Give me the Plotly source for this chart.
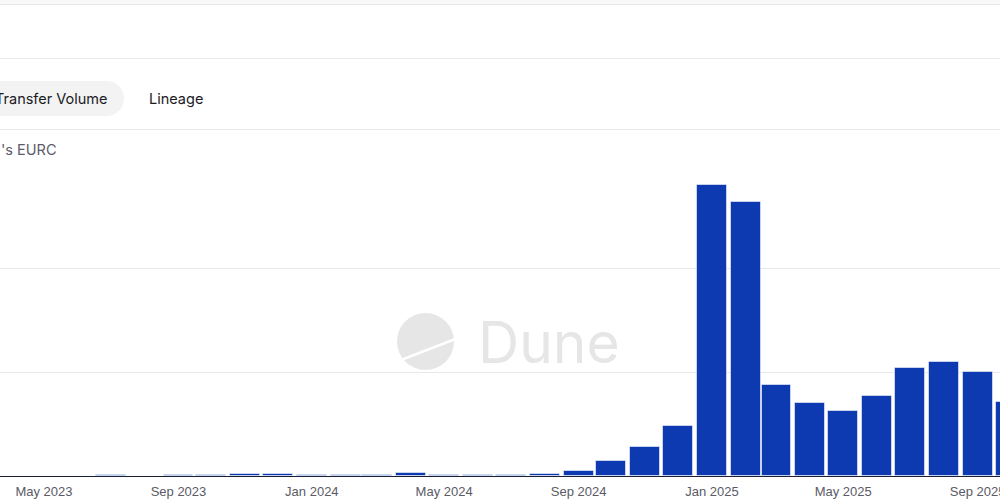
import plotly.graph_objects as go

# ---- data (monthly EURC transfer volume, in gridline units) ----
months = [
    "2023-04-01", "2023-05-01", "2023-06-01", "2023-07-01", "2023-08-01", "2023-09-01",
    "2023-10-01", "2023-11-01", "2023-12-01", "2024-01-01", "2024-02-01", "2024-03-01",
    "2024-04-01", "2024-05-01", "2024-06-01", "2024-07-01", "2024-08-01", "2024-09-01",
    "2024-10-01", "2024-11-01", "2024-12-01", "2025-01-01", "2025-02-01", "2025-03-01",
    "2025-04-01", "2025-05-01", "2025-06-01", "2025-07-01", "2025-08-01", "2025-09-01",
    "2025-10-01",
]
volume = [
    0.003, 0.003, 0.002, 0.010, 0.002, 0.010,
    0.013, 0.020, 0.020, 0.012, 0.010, 0.013,
    0.026, 0.010, 0.007, 0.010, 0.022, 0.051,
    0.141, 0.279, 0.481, 2.798, 2.637, 0.872,
    0.699, 0.622, 0.766, 1.038, 1.099, 1.003,
    0.709,
]
grid_values = [0, 1, 2]
tab_labels = ["Transfer Volume", "Lineage"]
title_text = "'s EURC"

# ---- layout geometry helpers (pixel -> paper) ----
W, H = 1000, 499
TOP, BOT = 164, 476


def px(x):
    return x / W


def py(y):
    return (BOT - y) / (BOT - TOP)


BAR_COLOR = "#0d3ab0"
LINE_COLOR = "#e8e8e8"
DAY_MS = 86400000

fig = go.Figure()
fig.add_trace(go.Bar(
    x=months, y=volume,
    width=27.4 * DAY_MS,
    marker=dict(color=BAR_COLOR, line=dict(color="rgba(255,255,255,0.55)", width=1)),
    hoverinfo="x+y",
))

shapes = []
# top grey band + separators
shapes.append(dict(type="rect", xref="paper", yref="paper", x0=-0.01, x1=1.01,
                   y0=py(4.5), y1=py(-2), fillcolor="#f8f8f8", line=dict(width=0), layer="below"))
for yy in (4.5, 58.5, 129.5):
    shapes.append(dict(type="line", xref="paper", yref="paper", x0=-0.01, x1=1.01,
                       y0=py(yy), y1=py(yy), line=dict(color=LINE_COLOR, width=1.2)))
# tab pill
shapes.append(dict(type="rect", xref="paper", yref="paper", x0=px(-30), x1=px(106.5),
                   y0=py(116), y1=py(81), fillcolor="#f3f3f3", line=dict(width=0), layer="below"))
shapes.append(dict(type="circle", xref="paper", yref="paper", x0=px(89), x1=px(124),
                   y0=py(116), y1=py(81), fillcolor="#f3f3f3", line=dict(width=0), layer="below"))
# Dune watermark logo
shapes.append(dict(type="circle", xref="paper", yref="paper", x0=px(397), x1=px(454),
                   y0=py(370), y1=py(313), fillcolor="#e6e6e6", line=dict(width=0), layer="below"))
shapes.append(dict(type="line", xref="paper", yref="paper", x0=px(401), x1=px(458),
                   y0=py(360), y1=py(338), line=dict(color="white", width=2.5), layer="below"))

annotations = [
    dict(text=tab_labels[0], x=px(110), y=py(98.5), xref="paper", yref="paper",
         xanchor="right", yanchor="middle", showarrow=False,
         font=dict(family="Inter, Arial", size=14.5, color="#1b1b1f")),
    dict(text=tab_labels[1], x=px(147), y=py(98.5), xref="paper", yref="paper",
         xanchor="left", yanchor="middle", showarrow=False,
         font=dict(family="Inter, Arial", size=14.5, color="#1b1b1f")),
    dict(text=title_text, x=px(-1), y=py(150), xref="paper", yref="paper",
         xanchor="left", yanchor="middle", showarrow=False,
         font=dict(family="Inter, Arial", size=14.5, color="#5b5b6b")),
    dict(text="Dune", x=px(549), y=py(342), xref="paper", yref="paper",
         xanchor="center", yanchor="middle", showarrow=False,
         font=dict(family="Inter, Arial", size=57, color="#e6e6e6")),
]

fig.update_layout(
    width=W, height=H, autosize=False,
    margin=dict(l=0, r=0, t=TOP, b=H - BOT, pad=0, autoexpand=False),
    paper_bgcolor="white", plot_bgcolor="white",
    showlegend=False, bargap=0,
    shapes=shapes, annotations=annotations,
    xaxis=dict(
        type="date", automargin=False,
        range=["2023-03-21 18:07", "2025-09-21 10:05"],
        tick0="2023-01-01", dtick="M4", tickformat="%b %Y",
        showgrid=False, showline=True, linecolor="#1a1f36", linewidth=1,
        ticks="", ticklabeloverflow="allow", ticklabelstandoff=3,
        tickfont=dict(family="Liberation Sans, Arial", size=13, color="#5a5a66"),
    ),
    yaxis=dict(
        range=[0, 3], tickvals=grid_values, showticklabels=False, automargin=False,
        showgrid=True, gridcolor="#e8e8e8", gridwidth=1, zeroline=False,
    ),
)

fig.write_html(
    "out.html",
    config={"displayModeBar": False},
    post_script="document.body.style.margin='0';document.body.style.overflow='hidden';",
)
